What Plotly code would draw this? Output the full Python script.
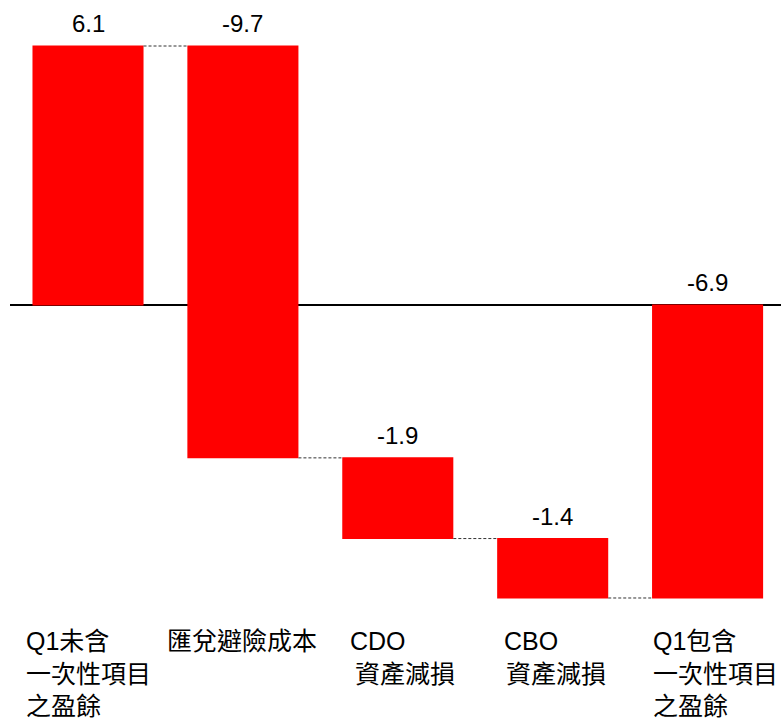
import plotly.graph_objects as go

# ---- data ----
categories = ["Q1未含一次性項目之盈餘", "匯兌避險成本", "CDO資產減損", "CBO資產減損", "Q1包含一次性項目之盈餘"]
label_lines = [
    ["Q1未含", "一次性項目", "之盈餘"],
    ["匯兌避險成本"],
    ["CDO", "資產減損"],
    ["CBO", "資產減損"],
    ["Q1包含", "一次性項目", "之盈餘"],
]
values = [6.1, -9.7, -1.9, -1.4, -6.9]
measures = ["relative", "relative", "relative", "relative", "total"]
value_text = ["6.1", "-9.7", "-1.9", "-1.4", "-6.9"]

# ---- styling / layout constants ----
RED = "#FF0000"
FONT = "Liberation Sans, Arial, Noto Sans CJK TC, sans-serif"
label_xshift = [[-64, -64, -64], [-78], [-50, -45], [-51, -49], [-57, -57, -57]]
line_yshift = [-36, -69, -101]

fig = go.Figure(go.Waterfall(
    x=categories,
    y=values,
    measure=measures,
    width=[0.717] * len(values),
    increasing=dict(marker=dict(color=RED, line=dict(width=0))),
    decreasing=dict(marker=dict(color=RED, line=dict(width=0))),
    totals=dict(marker=dict(color=RED, line=dict(width=0))),
    connector=dict(mode="between", line=dict(color="#333333", width=1, dash="3px,2px")),
    showlegend=False,
    hoverinfo="skip",
))

annotations = []
# value labels above the top of each bar
cum = 0.0
for i, (v, m) in enumerate(zip(values, measures)):
    if m == "total":
        start, end = 0.0, v
    else:
        start, end = cum, cum + v
        cum = end
    top = max(start, end)
    annotations.append(dict(
        x=categories[i], y=top, xref="x", yref="y", text=value_text[i],
        showarrow=False, yanchor="bottom", xanchor="center", yshift=7,
        font=dict(family=FONT, size=24, color="black"),
    ))

# category labels below the chart
for i, lines in enumerate(label_lines):
    for j, line in enumerate(lines):
        annotations.append(dict(
            x=i, y=0, xref="x", yref="paper", text=line, showarrow=False,
            xanchor="left", yanchor="middle", xshift=label_xshift[i][j],
            yshift=line_yshift[j],
            font=dict(family=FONT, size=25, color="black"),
        ))

fig.update_layout(
    width=781, height=720,
    margin=dict(l=10, r=0, t=10, b=115),
    paper_bgcolor="white", plot_bgcolor="white",
    annotations=annotations,
    xaxis=dict(type="category", range=[-0.5036, 4.474], showticklabels=False,
               showgrid=False, zeroline=False, showline=False, ticks=""),
    yaxis=dict(range=[-7.065, 6.948], showticklabels=False, showgrid=False,
               zeroline=True, zerolinecolor="black", zerolinewidth=1.5,
               showline=False, ticks=""),
)

fig.write_html("out.html")
